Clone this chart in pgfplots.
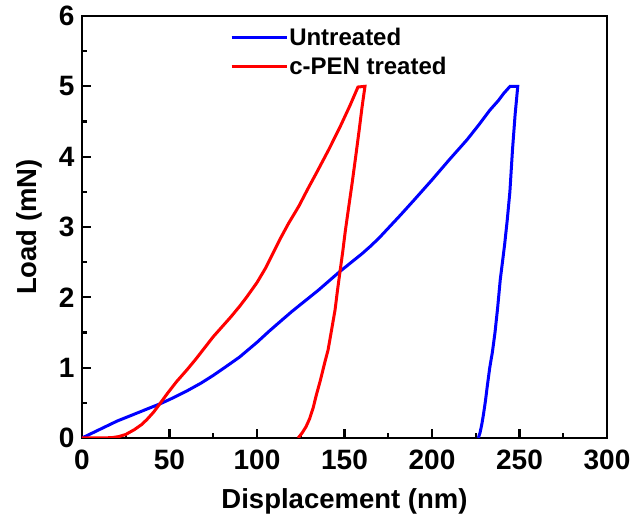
\documentclass[border=0pt]{standalone}
\usepackage{fontspec}
\setmainfont{Liberation Sans}
\usepackage{pgfplots}
\pgfplotsset{compat=1.18}
\usetikzlibrary{calc}

\definecolor{ublue}{RGB}{0,0,255}
\definecolor{tred}{RGB}{255,0,0}

\begin{document}
\begin{tikzpicture}
\begin{axis}[
    scale only axis,
    width=525pt, height=422pt,
    xmin=0, xmax=300, ymin=0, ymax=6,
    xtick={0,50,...,300}, ytick={0,1,...,6},
    minor x tick num=1, minor y tick num=1,
    xtick pos=bottom, ytick pos=left,
    tick align=inside,
    major tick length=9pt, minor tick length=5pt,
    every tick/.style={black, line width=2.2pt},
    axis line style={line width=2.6pt},
    tick label style={font=\fontsize{28}{32}\selectfont\bfseries},
    /pgf/number format/assume math mode=true,
    xticklabel style={yshift=-8pt},
    yticklabel style={xshift=-4pt},
    xlabel={Displacement (nm)},
    ylabel={Load (mN)},
    label style={font=\fontsize{27.5}{32}\selectfont\bfseries},
    xlabel style={yshift=-12pt},
    ylabel style={yshift=10pt},
    legend style={at={(rel axis cs:0.282,0.975)}, anchor=north west,
        draw=none, fill=none, inner sep=0pt, row sep=8pt,
        font=\fontsize{24}{28}\selectfont\bfseries,
        nodes={inner sep=1pt}},
    legend cell align=left,
    legend image code/.code={\draw[#1] (0pt,0pt) -- (55pt,0pt);},
]
\coordinate (bl) at (rel axis cs:0,0);
\coordinate (tr) at (rel axis cs:1,1);

\addplot[ublue, line width=3pt] coordinates {
 (0,0) (5,0.06) (10,0.12) (15,0.18) (20,0.24) (27,0.31) (35,0.39) (45,0.49)
 (52,0.57) (60,0.67) (68,0.78) (75,0.89) (82,1.01) (90,1.15) (100,1.36)
 (107,1.52) (113,1.65) (120,1.80) (127,1.94) (135,2.10) (141,2.23) (147,2.36)
 (153,2.48) (160,2.62) (165,2.73) (170,2.85) (176,3.01) (182,3.17) (190,3.39)
 (200,3.67) (210,3.96) (220,4.24) (227,4.46) (233,4.66) (238,4.80) (241,4.90)
 (244.6,5.0) (249,5.0) (247.5,4.6) (246,4.1) (244.5,3.5) (243,3.1) (241.5,2.75)
 (239,2.25) (237.5,1.85) (236,1.5) (234.5,1.22) (233,1.0) (231.5,0.72)
 (230.5,0.52) (229.5,0.35) (228.5,0.2) (227.5,0.08) (226.5,0)
};
\addlegendentry{Untreated}

\addplot[tred, line width=3pt] coordinates {
 (0,0) (10,0) (17,0.005) (21,0.02) (25,0.05) (30,0.12) (34,0.19) (37,0.26)
 (41,0.37) (44.6,0.49) (49,0.64) (54,0.80) (60,0.97) (65,1.12) (70,1.28)
 (75,1.44) (80,1.58) (85,1.72) (90,1.87) (94,2.00) (100,2.21) (105,2.42)
 (109,2.62) (113,2.82) (118,3.05) (124,3.30) (129,3.54) (134,3.77) (141,4.10)
 (147.4,4.42) (153,4.72) (157.7,4.99) (161.7,5.0) (160,4.7) (158.5,4.4)
 (156.5,4.02) (154.5,3.65) (152.5,3.30) (150.5,2.95) (149,2.65) (147.4,2.36)
 (146,2.1) (144.6,1.82) (142.5,1.52) (140.6,1.25) (139,1.10) (137.7,0.97)
 (136,0.80) (134,0.62) (132,0.42) (130,0.27) (128,0.16) (126,0.08)
 (124.5,0.03) (123.5,0)
};
\addlegendentry{c-PEN treated}
\end{axis}
\pgfresetboundingbox
\path[use as bounding box] ($(bl)+(-82pt,-91pt)$) rectangle ($(tr)+(25pt,16pt)$);
\end{tikzpicture}
\end{document}
